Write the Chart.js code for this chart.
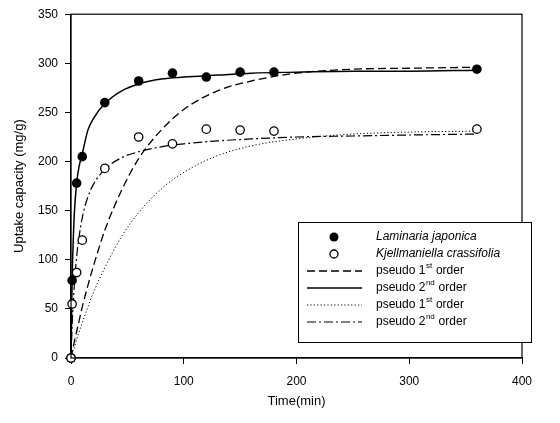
<!DOCTYPE html>
<html>
<head>
<meta charset="utf-8">
<script src="https://cdn.jsdelivr.net/npm/chart.js@4/dist/chart.umd.min.js"></script>
<style>
  html, body { margin: 0; padding: 0; background: #fff; }
  canvas { display: block; }
</style>
</head>
<body>
<canvas id="grafico" width="560" height="423"></canvas>
<script>
// Misure sperimentali (min, mg/g)
const tempi = [0, 1, 5, 10, 30, 60, 90, 120, 150, 180, 360];
const laminaria = [0, 79, 178, 205, 260, 282, 290, 286, 291, 291, 294];
const kjellmaniella = [0, 55, 87, 120, 193, 225, 218, 233, 232, 231, 233];

// Curve dei modelli cinetici
const tempiModello = [0, 1, 2, 3, 5, 7, 10, 15, 20, 30, 45, 60, 80, 100, 130, 160, 200, 250, 300, 360];
const lamPrimo = [0, 6, 11, 17, 27, 37, 52, 74, 94, 130, 171, 203, 232, 253, 272, 282, 290, 294, 295, 296];
const lamSecondo = [0, 80, 120, 148, 178, 194, 208, 232, 244, 259, 272, 279, 284, 286, 288, 290, 291, 292, 292, 293];
const kjePrimo = [0, 4, 8, 11, 19, 26, 36, 52, 67, 92, 124, 148, 172, 189, 206, 216, 223, 228, 230, 231];
const kjeSecondo = [0, 32, 56, 75, 103, 122, 143, 164, 177, 192, 204, 210, 215, 218, 221, 223, 225, 226, 227, 228];

const xTicks = [0, 100, 200, 300, 400];
const yTicks = [0, 50, 100, 150, 200, 250, 300, 350];

const specie = ['Laminaria japonica', 'Kjellmaniella crassifolia'];
const modelli = [['1', 'st'], ['2', 'nd'], ['1', 'st'], ['2', 'nd']];

const FONT = "'Liberation Sans', Arial, sans-serif";

const punti = (xs, ys) => xs.map((x, i) => ({ x: x, y: ys[i] }));

const TRATTI = [[8, 4], [], [1.2, 2.2], [9, 3, 2, 3]];
const SPESSORI = [1.3, 1.5, 1, 1.2];

const curva = (dati, i) => ({
    type: 'line',
    data: punti(tempiModello, dati),
    borderColor: '#000',
    borderWidth: SPESSORI[i],
    borderDash: TRATTI[i],
    pointRadius: 0,
    fill: false,
    cubicInterpolationMode: 'monotone',
    order: i + 2
});

// Riquadro attorno all'area del grafico + legenda
const cornice = {
    id: 'cornice',
    afterDraw(chart) {
        const ctx = chart.ctx;
        const a = chart.chartArea;
        ctx.save();
        ctx.strokeStyle = '#000';
        ctx.lineWidth = 1.2;
        ctx.strokeRect(a.left, a.top, a.right - a.left, a.bottom - a.top);

        const box = { x: 298, y: 222, w: 233, h: 120 };
        ctx.fillStyle = '#fff';
        ctx.fillRect(box.x, box.y, box.w, box.h);
        ctx.lineWidth = 1;
        ctx.strokeRect(box.x + 0.5, box.y + 0.5, box.w, box.h);

        const xm = 334, x0 = 307, x1 = 362, xt = 376;
        const righe = [237, 254, 271, 288, 305, 322];
        ctx.fillStyle = '#000';
        ctx.textBaseline = 'middle';

        // simboli delle due alghe
        ctx.beginPath();
        ctx.arc(xm, righe[0], 4.5, 0, Math.PI * 2);
        ctx.fill();
        ctx.beginPath();
        ctx.arc(xm, righe[1], 4, 0, Math.PI * 2);
        ctx.fillStyle = '#fff';
        ctx.fill();
        ctx.lineWidth = 1.3;
        ctx.stroke();
        ctx.fillStyle = '#000';

        ctx.font = 'italic 12px ' + FONT;
        ctx.fillText(specie[0], xt, righe[0]);
        ctx.fillText(specie[1], xt, righe[1]);

        modelli.forEach((m, i) => {
            const y = righe[i + 2];
            ctx.beginPath();
            ctx.setLineDash(TRATTI[i]);
            ctx.lineWidth = SPESSORI[i];
            ctx.moveTo(x0, y);
            ctx.lineTo(x1, y);
            ctx.stroke();
            ctx.setLineDash([]);

            ctx.font = '12px ' + FONT;
            let x = xt;
            const testo = 'pseudo ' + m[0];
            ctx.fillText(testo, x, y);
            x += ctx.measureText(testo).width;
            ctx.font = '8px ' + FONT;
            ctx.fillText(m[1], x + 0.5, y - 5);
            x += ctx.measureText(m[1]).width + 1;
            ctx.font = '12px ' + FONT;
            ctx.fillText(' order', x, y);
        });
        ctx.restore();
    }
};

const datasets = [
    {
        type: 'scatter',
        data: punti(tempi, kjellmaniella),
        pointRadius: 4.2,
        pointBackgroundColor: '#fff',
        pointBorderColor: '#000',
        pointBorderWidth: 1.3,
        showLine: false,
        clip: false,
        order: 0
    },
    {
        type: 'scatter',
        data: punti(tempi, laminaria),
        pointRadius: 4.8,
        pointBackgroundColor: '#000',
        pointBorderColor: '#000',
        pointBorderWidth: 0,
        showLine: false,
        clip: false,
        order: 1
    },
    curva(lamPrimo, 0),
    curva(lamSecondo, 1),
    curva(kjePrimo, 2),
    curva(kjeSecondo, 3)
];

const ctx = document.getElementById('grafico').getContext('2d');
new Chart(ctx, {
    type: 'scatter',
    data: { datasets: datasets },
    options: {
        responsive: false,
        animation: false,
        events: [],
        layout: { padding: { top: 14, right: 38, left: 0, bottom: 0 } },
        plugins: { legend: { display: false }, tooltip: { enabled: false } },
        scales: {
            x: {
                type: 'linear',
                min: 0,
                max: 400,
                afterBuildTicks: (s) => { s.ticks = xTicks.map(v => ({ value: v })); },
                afterFit: (s) => { s.height = 65; },
                ticks: { color: '#000', font: { family: FONT, size: 12 }, padding: 10 },
                grid: { drawOnChartArea: false, tickLength: 6, color: '#000', lineWidth: 1 },
                border: { color: '#000', width: 1.2 },
                title: { display: true, text: 'Time(min)', color: '#000', font: { family: FONT, size: 13 }, padding: { top: 4, bottom: 14 } }
            },
            y: {
                type: 'linear',
                min: 0,
                max: 350,
                afterBuildTicks: (s) => { s.ticks = yTicks.map(v => ({ value: v })); },
                afterFit: (s) => { s.width = 71; },
                ticks: { color: '#000', font: { family: FONT, size: 12 }, padding: 7 },
                grid: { drawOnChartArea: false, tickLength: 6, color: '#000', lineWidth: 1 },
                border: { color: '#000', width: 1.2 },
                title: { display: true, text: 'Uptake capacity (mg/g)', color: '#000', font: { family: FONT, size: 13 }, padding: { top: 12, bottom: 12 } }
            }
        }
    },
    plugins: [cornice]
});
</script>
</body>
</html>
